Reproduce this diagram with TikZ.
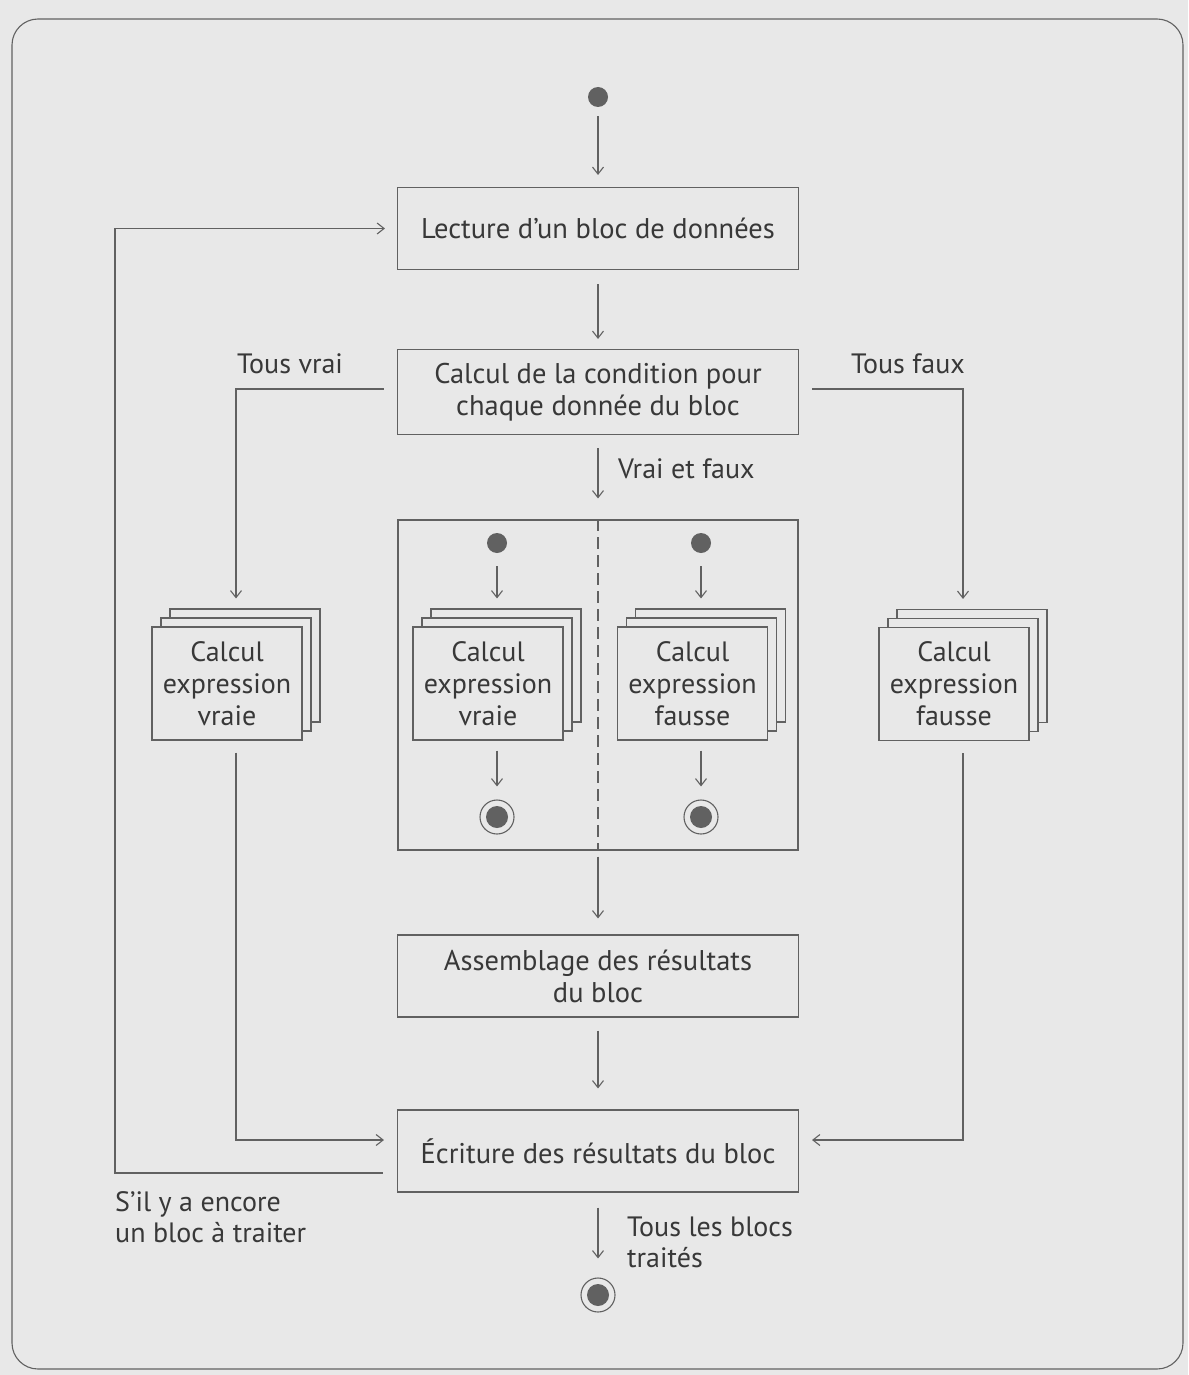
\documentclass[tikz,border=0pt]{standalone}
\usepackage{fontspec}
\setmainfont{PT Sans}
\usetikzlibrary{arrows.meta,calc}
\definecolor{bg}{gray}{0.91}
\definecolor{ink}{gray}{0.22}
\definecolor{lnc}{gray}{0.38}
\begin{document}
\begin{tikzpicture}[x=1pt,y=-1pt,
  ln/.style={draw=lnc, line width=1.1pt},
  arr/.style={ln, -{Straight Barb[length=7pt,width=11pt]}},
  box/.style={ln, fill=bg, rectangle, inner sep=0pt, text=ink, align=center,
    font=\fontsize{28.5}{32}\selectfont},
  wbox/.style={box, minimum width=401pt, minimum height=82pt},
  sbox/.style={box, minimum width=150pt, minimum height=113pt, font=\fontsize{28}{32}\selectfont},
  lbl/.style={text=ink, inner sep=0pt, align=left, font=\fontsize{28}{31}\selectfont},
  startc/.style={circle, fill=lnc, minimum size=20pt, inner sep=0pt},
  endc/.style={circle, ln, fill=bg, minimum size=34pt, inner sep=0pt,
    path picture={\fill[lnc] (path picture bounding box.center) circle (11pt);}},
]
\useasboundingbox (0,0) rectangle (1188,1375);
\fill[bg] (0,0) rectangle (1188,1375);
\draw[ln, rounded corners=26pt] (12,19) rectangle (1183,1369);

% column coordinates
\coordinate (loopx) at (115,0);
\coordinate (lcx) at (236,0);
\coordinate (rcx) at (963,0);

% main column
\node[startc] (start) at (598,97) {};
\node[wbox] (lect) at (598,228.5) {Lecture d’un bloc de données};
\node[wbox, minimum height=85pt] (cond) at (598,392) {Calcul de la condition pour\\chaque donnée du bloc};
\node[box, minimum width=400pt, minimum height=330pt] (cont) at (598,685) {};
\node[wbox] (asm) at (598,976) {Assemblage des résultats\\du bloc};
\node[wbox] (ecr) at (598,1151) {Écriture des résultats du bloc};
\node[endc] (fin) at (598,1295) {};

% outer left stack
\node[sbox] (L3) at (245,665.5) {};
\node[sbox] (L2) at (236,674.5) {};
\node[sbox] (L1) at (227,683.5) {Calcul\\expression\\vraie};
% outer right stack
\node[sbox] (R3) at (972,666) {};
\node[sbox] (R2) at (963,675) {};
\node[sbox] (R1) at (954,684) {Calcul\\expression\\fausse};

% divider in container
\draw[ln, dash pattern=on 12pt off 6pt] (cont.north) -- (cont.south);

% inner left
\node[startc] (s1) at (497,543) {};
\node[sbox] (IL3) at (506,665.5) {};
\node[sbox] (IL2) at (497,674.5) {};
\node[sbox] (IL1) at (488,683.5) {Calcul\\expression\\vraie};
\node[endc] (e1) at (497,817) {};
% inner right
\node[startc] (s2) at (701,543) {};
\node[sbox] (IR3) at (710.5,665.5) {};
\node[sbox] (IR2) at (701.5,674.5) {};
\node[sbox] (IR1) at (692.5,683.5) {Calcul\\expression\\fausse};
\node[endc] (e2) at (701,817) {};

% main arrows
\draw[arr, shorten <=9pt, shorten >=12pt] (start) -- (lect);
\draw[arr, shorten <=14pt, shorten >=10pt] (lect) -- (cond);
\draw[arr, shorten <=13pt, shorten >=21pt] (cond) -- (cont);
\draw[arr, shorten <=6pt, shorten >=16pt] (cont) -- (asm);
\draw[arr, shorten <=13pt, shorten >=21pt] (asm) -- (ecr);
\draw[arr, shorten <=15pt, shorten >=19pt] (ecr) -- (fin);

% inner arrows
\draw[arr, shorten <=13pt, shorten >=10pt] (s1) -- (s1 |- IL3.north);
\draw[arr, shorten <=10pt, shorten >=13pt] (IL1.south -| s1) -- (e1);
\draw[arr, shorten <=13pt, shorten >=10pt] (s2) -- (s2 |- IR3.north);
\draw[arr, shorten <=10pt, shorten >=13pt] (IR1.south -| s2) -- (e2);

% branches
\draw[arr, shorten <=13pt, shorten >=10pt] ([yshift=3pt]cond.west) -| (L3.north -| lcx);
\draw[arr, shorten <=13pt, shorten >=10pt] ([yshift=3pt]cond.east) -| (R3.north -| rcx);
\draw[arr, shorten <=12pt, shorten >=13pt] (L1.south -| lcx) |- ([yshift=11pt]ecr.west);
\draw[arr, shorten <=12pt, shorten >=13pt] (R1.south -| rcx) |- ([yshift=11pt]ecr.east);

% loop back
\draw[arr, shorten <=14pt, shorten >=12pt] ([yshift=-22pt]ecr.west) -| (loopx |- lect.west) -- (lect.west);

% labels
\node[lbl, anchor=base west] (tv) at (237,373) {Tous vrai};
\node[lbl, anchor=base east] (tf) at (965,373) {Tous faux};
\node[lbl, anchor=base west] (vf) at (618,478) {Vrai et faux};
\node[lbl, anchor=base west] (enc) at (115,1242) {S’il y a encore\\un bloc à traiter};
\node[lbl, anchor=base west] (tlb) at (627,1267) {Tous les blocs\\traités};
\end{tikzpicture}
\end{document}
